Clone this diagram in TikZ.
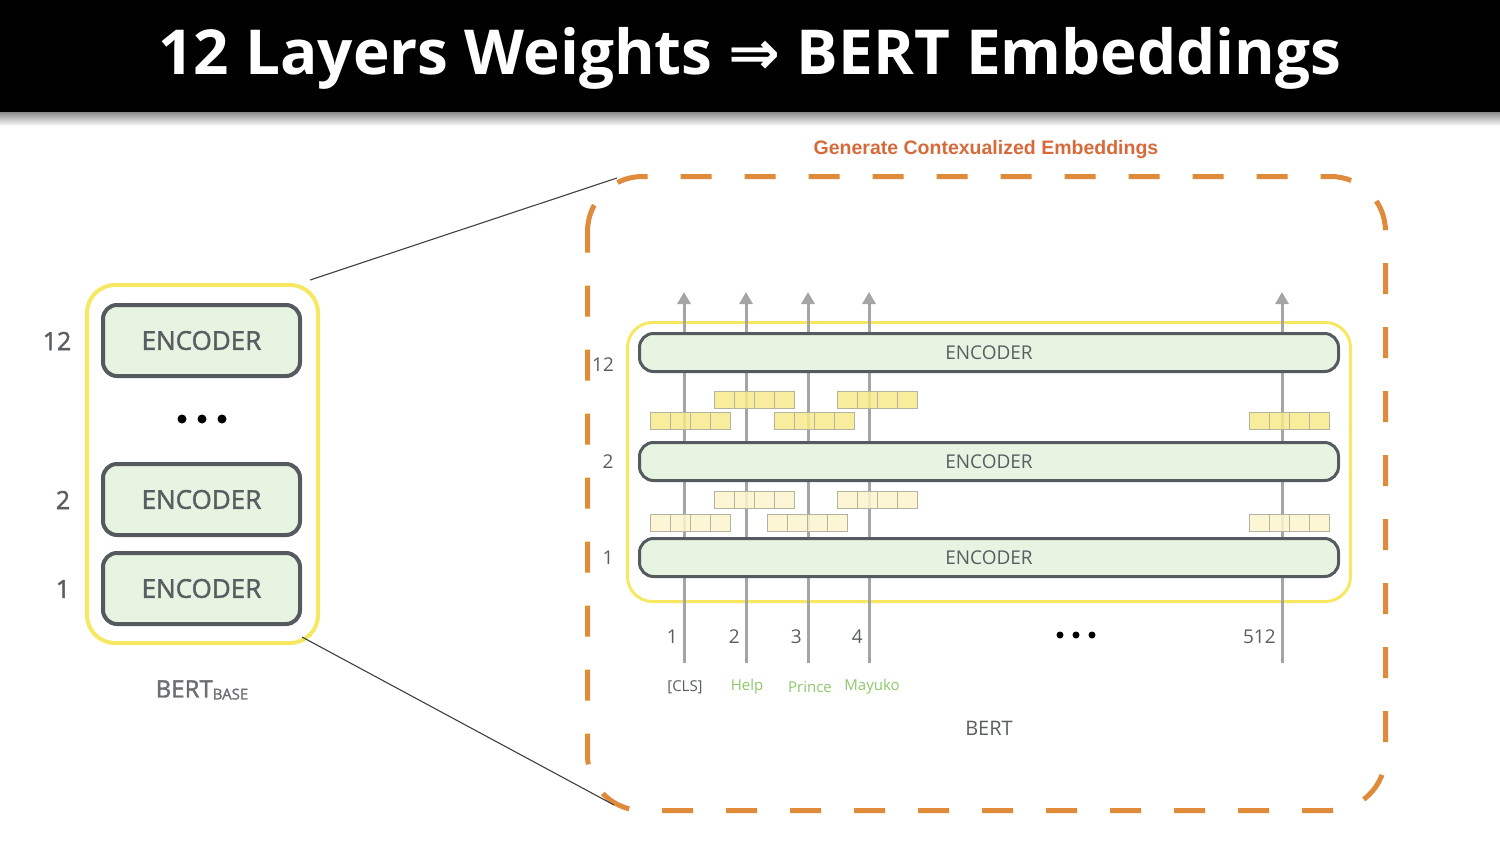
\documentclass[tikz,border=0pt]{standalone}
\usepackage{fontspec}
\setmainfont{Open Sans}
\newfontfamily\semifont{Open Sans}[FakeBold=1.6]
\newfontfamily\arrowfont{DejaVu Sans}
\newfontfamily\headfont{Liberation Sans}
\usetikzlibrary{arrows.meta}

\definecolor{encfill}{RGB}{232,244,226}
\definecolor{encline}{RGB}{85,90,96}
\definecolor{yelline}{RGB}{246,232,98}
\definecolor{ctxorange}{RGB}{224,138,60}
\definecolor{ctxtext}{RGB}{214,106,58}
\definecolor{tokgreen}{RGB}{140,200,105}
\definecolor{txtgrey}{RGB}{90,94,98}
\definecolor{lanegrey}{RGB}{165,165,165}
\definecolor{embdark}{RGB}{247,234,140}
\definecolor{emblight}{RGB}{251,245,205}
\definecolor{cellline}{RGB}{180,178,160}

\tikzset{every picture/.style={line width=0.75pt}}
\tikzset{
  encbig/.style={draw=encline, fill=encfill, line width=4pt, rounded corners=14pt, minimum width=197pt, minimum height=71pt, inner sep=0pt, font=\semifont\fontsize{26}{30}\selectfont, text=txtgrey},
  encwide/.style={draw=encline, fill=encfill, line width=3pt, rounded corners=14pt, minimum width=699pt, minimum height=38pt, inner sep=0pt, font=\fontsize{19}{22}\selectfont, text=txtgrey},
  cell/.style={draw=cellline, line width=1pt, minimum width=20pt, minimum height=17pt, inner sep=0pt, fill opacity=0.85},
  lane/.style={draw=lanegrey, line width=3pt, -{Triangle[width=13pt,length=12pt]}},
  zoomline/.style={draw=black!75, line width=1.1pt},
  numlabel/.style={text=txtgrey, inner sep=0pt},
  token/.style={font=\fontsize{15}{18}\selectfont, inner sep=0pt}
}

\newcommand{\embrow}[4]{% name, left x, top y, fill
  \foreach \k in {0,...,3}{
    \node[cell, fill=#4, anchor=north west] (#1-\k) at ({#2+20*\k},#3) {};
  }
}

\begin{document}
\begin{tikzpicture}[x=1pt,y=1pt,yscale=-1,xscale=1]
	\useasboundingbox (0,0) rectangle (1500,843);

	%Shape: Rectangle [title bar]
	\shade[top color=black!45, bottom color=white] (0,112) rectangle (1500,126);
	\fill[black] (0,0) rectangle (1500,112);
	% Text Node
	\node[text=white, font=\fontsize{62}{72}\selectfont\bfseries] (title) at (750,58) {12 Layers Weights {\arrowfont ⇒} BERT Embeddings};

	%Shape: Rectangle [BERT base]
	\draw[yelline, line width=4pt, rounded corners=28pt] (87,285) rectangle (318,643);
	\node[encbig] (enc12) at (201.5,340.5) {ENCODER};
	\node[encbig] (enc2) at (201.5,499.5) {ENCODER};
	\node[encbig] (enc1) at (201.5,588.5) {ENCODER};
	\node[numlabel, font=\semifont\fontsize{25}{30}\selectfont] (n12) at (57,341) {12};
	\node[numlabel, font=\semifont\fontsize{25}{30}\selectfont] (n2) at (63,500) {2};
	\node[numlabel, font=\semifont\fontsize{25}{30}\selectfont] (n1) at (63,589) {1};
	\foreach \x in {182,202,222}
		\fill[black] (\x,419) circle (4.5);
	\node[text=txtgrey!90, font=\semifont] (base) at (202,690) {{\fontsize{24}{28}\selectfont BERT}\raisebox{-2pt}{\fontsize{15}{18}\selectfont BASE}};

	%Shape: Rectangle [contextual embeddings]
	\draw[ctxorange, line width=5pt, rounded corners=55pt, dash pattern=on 31pt off 33pt, dash phase=10pt] (587.5,176.5) rectangle (1385.5,810.5);
	\node[text=ctxtext, font=\headfont\bfseries\fontsize{19.5}{23}\selectfont] (ctxtitle) at (986,150) {Generate Contexualized Embeddings};

	%Straight Lines [zoom]
	\coordinate (baseTR) at (310,280);
	\coordinate (baseBR) at (302,637);
	\coordinate (ctxTL) at (617,178);
	\coordinate (ctxBL) at (614,805);
	\draw[zoomline] (baseTR) -- (ctxTL);
	\draw[zoomline] (baseBR) -- (ctxBL);

	%Shape: Rectangle [BERT]
	\draw[yelline, line width=3pt, rounded corners=25pt] (627.5,322.5) rectangle (1350.5,601.5);
	\foreach \x/\n in {684/1,746/2,808/3,869/4,1282/512}{
		\coordinate (in\n) at (\x,663);
		\coordinate (out\n) at (\x,292);
		\draw[lane] (in\n) -- (out\n);
	}
	\node[encwide] (wenc12) at (989,352.5) {ENCODER};
	\node[encwide] (wenc2) at (989,461.5) {ENCODER};
	\node[encwide] (wenc1) at (989,557.5) {ENCODER};
	\node[numlabel, font=\fontsize{19}{22}\selectfont] (m12) at (603,365) {12};
	\node[numlabel, font=\fontsize{19}{22}\selectfont] (m2) at (608,462) {2};
	\node[numlabel, font=\fontsize{19}{22}\selectfont] (m1) at (608,558) {1};

	% embeddings between layers
	\embrow{u1}{714}{391}{embdark}
	\embrow{u2}{837}{391}{embdark}
	\embrow{u3}{650}{412}{embdark}
	\embrow{u4}{774}{412}{embdark}
	\embrow{u5}{1249}{412}{embdark}
	\embrow{l1}{714}{491}{emblight}
	\embrow{l2}{837}{491}{emblight}
	\embrow{l3}{650}{514}{emblight}
	\embrow{l4}{767}{514}{emblight}
	\embrow{l5}{1249}{514}{emblight}

	% positions and tokens
	\foreach \x/\n in {684/1,746/2,808/3,869/4,1282/512}
		\node[numlabel, anchor=east, font=\fontsize{19}{22}\selectfont] (pos\n) at (\x-6,637) {\n};
	\foreach \x in {1060,1076,1092}
		\fill[black] (\x,635) circle (3.5);
	\node[token, text=txtgrey] (tcls) at (685,687) {[CLS]};
	\node[token, text=tokgreen] (thelp) at (747,687) {Help};
	\node[token, text=tokgreen] (tprince) at (810,687) {Prince};
	\node[token, text=tokgreen] (tmayuko) at (872,687) {Mayuko};
	\node[numlabel, font=\fontsize{20}{24}\selectfont] (bert) at (989,728) {BERT};

\end{tikzpicture}
\end{document}
